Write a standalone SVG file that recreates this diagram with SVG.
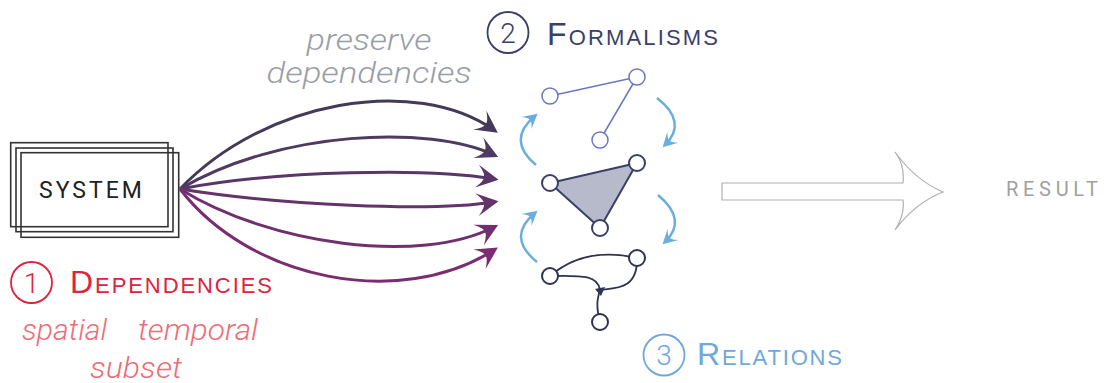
<svg xmlns="http://www.w3.org/2000/svg" width="1111" height="383" viewBox="0 0 1111 383">
<style>
.box{fill:none;stroke:#333;stroke-width:1.6}
.dep{fill:none;stroke-width:3}
.blue{fill:none;stroke:#6aaee0;stroke-width:2.5}
.ital{font-family:Roboto,"Liberation Sans",Arial,sans-serif;font-style:italic;font-weight:300}
.cap{font-family:"Liberation Sans",Arial,sans-serif}
.dig{font-family:Roboto,"Liberation Sans",Arial,sans-serif;font-weight:300}
.n1{fill:#fff;stroke:#6b77c0;stroke-width:1.5}
.n2{fill:#fff;stroke:#3a3f68;stroke-width:2}
.n3{fill:#fff;stroke:#2e3352;stroke-width:2}
</style>
<defs>
<marker id="m1" markerUnits="userSpaceOnUse" markerWidth="30" markerHeight="30" viewBox="-20 -12 26 24" refX="0" refY="0" orient="auto"><path d="M4,0 L-15,-10 Q-8,-3 -9,0 Q-8,3 -15,10 Z" fill="#45395a"/></marker>
<marker id="m2" markerUnits="userSpaceOnUse" markerWidth="30" markerHeight="30" viewBox="-20 -12 26 24" refX="0" refY="0" orient="auto"><path d="M4,0 L-15,-10 Q-8,-3 -9,0 Q-8,3 -15,10 Z" fill="#4f3a62"/></marker>
<marker id="m3" markerUnits="userSpaceOnUse" markerWidth="30" markerHeight="30" viewBox="-20 -12 26 24" refX="0" refY="0" orient="auto"><path d="M4,0 L-15,-10 Q-8,-3 -9,0 Q-8,3 -15,10 Z" fill="#5a3668"/></marker>
<marker id="m4" markerUnits="userSpaceOnUse" markerWidth="30" markerHeight="30" viewBox="-20 -12 26 24" refX="0" refY="0" orient="auto"><path d="M4,0 L-15,-10 Q-8,-3 -9,0 Q-8,3 -15,10 Z" fill="#65336c"/></marker>
<marker id="m5" markerUnits="userSpaceOnUse" markerWidth="30" markerHeight="30" viewBox="-20 -12 26 24" refX="0" refY="0" orient="auto"><path d="M4,0 L-15,-10 Q-8,-3 -9,0 Q-8,3 -15,10 Z" fill="#70306f"/></marker>
<marker id="m6" markerUnits="userSpaceOnUse" markerWidth="30" markerHeight="30" viewBox="-20 -12 26 24" refX="0" refY="0" orient="auto"><path d="M4,0 L-15,-10 Q-8,-3 -9,0 Q-8,3 -15,10 Z" fill="#7c2c72"/></marker>
<marker id="mb" markerUnits="userSpaceOnUse" markerWidth="20" markerHeight="20" viewBox="-14 -9 18 18" refX="0" refY="0" orient="auto"><path d="M3,0 L-10,-7 Q-5,-2 -6,0 Q-5,2 -10,7 Z" fill="#6aaee0"/></marker>
</defs>

<g id="system">
<rect class="box" x="10.7" y="142.7" width="157.3" height="84"/>
<rect class="box" x="16" y="148" width="157" height="83.7"/>
<rect class="box" x="21" y="152.7" width="157.7" height="84.6"/>
<text x="92" y="198" font-family="Roboto,'Liberation Sans',sans-serif" font-size="23" letter-spacing="3" text-anchor="middle" fill="#222">SYSTEM</text>
</g>

<g id="connectors">
<path class="dep" stroke="#45395a" marker-end="url(#m1)" d="M180,189 C265,100 415,75 494,130"/>
<path class="dep" stroke="#4f3a62" marker-end="url(#m2)" d="M180,189 C280,130 430,125 494,155"/>
<path class="dep" stroke="#5a3668" marker-end="url(#m3)" d="M180,189 C280,170 430,168 494,179"/>
<path class="dep" stroke="#65336c" marker-end="url(#m4)" d="M180,189 C280,205 430,212 494,202"/>
<path class="dep" stroke="#70306f" marker-end="url(#m5)" d="M180,189 C270,245 420,265 494,227"/>
<path class="dep" stroke="#7c2c72" marker-end="url(#m6)" d="M180,189 C250,280 400,310 494,250"/>
<path class="blue" marker-end="url(#mb)" d="M536,165 Q506,140 535,116"/>
<path class="blue" marker-end="url(#mb)" d="M657,98 Q688,122 665,145"/>
<path class="blue" marker-end="url(#mb)" d="M658,195 Q688,220 665,242"/>
<path class="blue" marker-end="url(#mb)" d="M537,262 Q506,237 535,213"/>
</g>

<g id="preserve-label" class="ital" fill="#9a9ea6" font-size="30" text-anchor="middle">
<text x="369" y="50" textLength="125" lengthAdjust="spacingAndGlyphs">preserve</text>
<text x="369" y="83" textLength="205" lengthAdjust="spacingAndGlyphs">dependencies</text>
</g>

<g id="dependencies">
<circle cx="31.5" cy="282.5" r="20.5" fill="none" stroke="#e0233c" stroke-width="1.8"/>
<text class="dig" x="31.5" y="293" font-size="28" text-anchor="middle" fill="#e0233c">1</text>
<text class="cap" x="70" y="293" fill="#e0233c" textLength="202" lengthAdjust="spacing"><tspan font-size="32">D</tspan><tspan font-size="22">EPENDENCIES</tspan></text>
<g class="ital" fill="#f06b78" font-size="29">
<text x="22" y="340" textLength="85" lengthAdjust="spacingAndGlyphs">spatial</text>
<text x="138" y="340" textLength="120" lengthAdjust="spacingAndGlyphs">temporal</text>
<text x="90" y="378" textLength="92" lengthAdjust="spacingAndGlyphs">subset</text>
</g>
</g>

<g id="formalisms">
<circle cx="508" cy="32.5" r="20.5" fill="none" stroke="#3a3f6e" stroke-width="1.8"/>
<text class="dig" x="508" y="43" font-size="28" text-anchor="middle" fill="#3a3f6e">2</text>
<text class="cap" x="547" y="45" fill="#3a3f6e" textLength="171" lengthAdjust="spacing"><tspan font-size="32">F</tspan><tspan font-size="22">ORMALISMS</tspan></text>
</g>

<g id="graph-top">
<line x1="550" y1="96" x2="637" y2="77" stroke="#6b77c0" stroke-width="1.5"/>
<line x1="637" y1="77" x2="600" y2="140" stroke="#6b77c0" stroke-width="1.5"/>
<circle class="n1" cx="550" cy="96" r="8"/>
<circle class="n1" cx="637" cy="77" r="8"/>
<circle class="n1" cx="600" cy="140" r="8"/>
</g>

<g id="graph-triangle">
<polygon points="550,183 637,163 600,228" fill="#b6bacb" stroke="#3a3f68" stroke-width="2" stroke-linejoin="round"/>
<circle class="n2" cx="550" cy="183" r="8"/>
<circle class="n2" cx="637" cy="163" r="8"/>
<circle class="n2" cx="600" cy="228" r="8"/>
</g>

<g id="graph-bottom" fill="none" stroke="#2e3352" stroke-width="1.8">
<path d="M550,276 Q585,246 637,258"/>
<path d="M550,276 C585,275 598,276 600,290"/>
<path d="M600,290 C615,288 638,290 637,258"/>
<path d="M600,290 C597,300 596,306 600,322"/>
<path d="M595,289 L605,287 L601,296 Z" fill="#2e3352" stroke="none"/>
<circle class="n3" cx="550" cy="276" r="8"/>
<circle class="n3" cx="637" cy="258" r="8"/>
<circle class="n3" cx="600" cy="322" r="8"/>
</g>

<g id="relations">
<circle cx="664" cy="355" r="20.5" fill="none" stroke="#6fa8dc" stroke-width="1.8"/>
<text class="dig" x="664" y="365" font-size="28" text-anchor="middle" fill="#6fa8dc">3</text>
<text class="cap" x="697" y="365" fill="#6fa8dc" textLength="145" lengthAdjust="spacing"><tspan font-size="32">R</tspan><tspan font-size="22">ELATIONS</tspan></text>
</g>

<g id="big-arrow">
<path d="M722,183 L903,183 Q905,165 895,152 Q915,180 943,192 Q915,203 895,230 Q905,215 903,200 L722,200 Z" fill="#fff" stroke="#b0b0b0" stroke-width="1.2"/>
</g>

<g id="result">
<text x="1006" y="196" font-family="Roboto,'Liberation Sans',sans-serif" font-size="20" fill="#a0a0a0" textLength="92" lengthAdjust="spacing">RESULT</text>
</g>
</svg>
